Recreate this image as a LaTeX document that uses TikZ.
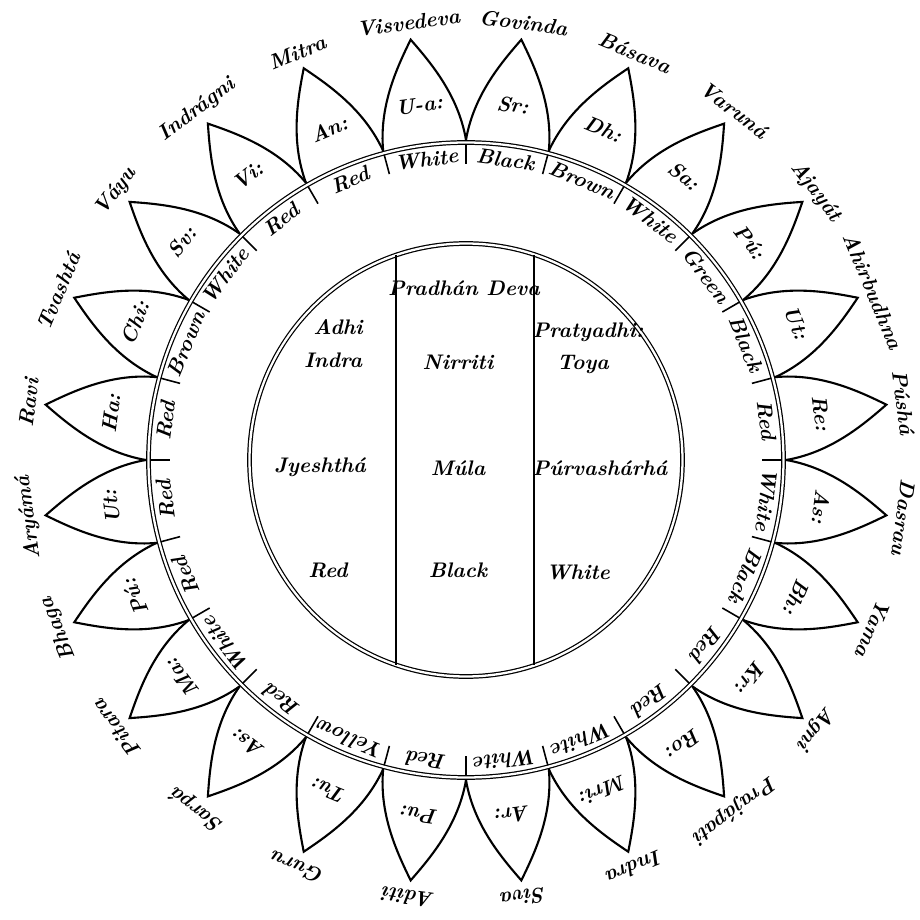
\documentclass[tikz,border=0pt]{standalone}
\usepackage{fontspec}
\usetikzlibrary{calc}

\begin{document}
\begin{tikzpicture}[
    x=0.02cm, y=0.02cm,
    ring/.style={draw, line width=0.7pt, double, double distance=1.3pt},
    petal/.style={draw, line width=1.2pt, line join=miter},
    tick/.style={line width=0.9pt},
    word/.style={font=\fontsize{12}{14}\selectfont\bfseries\itshape, inner sep=1pt},
]

\useasboundingbox (-466,-460) rectangle (454,460);

% ====== Rings ======
\draw[ring] (0,0) circle (317.5);
\draw[ring] (0,0) circle (216.5);

% ====== Columns of the centre ======
\draw[line width=1.2pt] (-70,205) -- (-70,-205);
\draw[line width=1.2pt] (68,205) -- (68,-205);

\node[word] (adhi)  at (-128,133) {Adhi};
\node[word] (indra) at (-133,100) {Indra};
\node[word] (pradhan) at (-2,172) {Pradhán Deva};
\node[word] (nirriti) at (-8,98) {Nirriti};
\node[word] (pratyadhi) at (122,128) {Pratyadhi:};
\node[word] (toya)  at (117,95) {Toya};

\node[word] (jyeshtha) at (-146,-7) {Jyeshthá};
\node[word] (mula)  at (-8,-8) {Múla};
\node[word] (purva) at (134,-8) {Púrvashárhá};

\node[word] (red)   at (-138,-110) {Red};
\node[word] (black) at (-8,-110) {Black};
\node[word] (white) at (112,-112) {White};

% ====== Ticks of the ring ======
\foreach \a in {0,15,...,345}
    \draw[tick] (\a:296) -- (\a:316);

% ====== Petals, colours and deities ======
\foreach \col/\abbr/\deity [count=\k from 0] in {
    White/U-a:/Visvedeva, Black/Sr:/Govinda, Brown/Dh:/Básava,
    White/Sa:/Varuná, Green/Pú:/Ajayát, Black/Ut:/Ahirbudhna,
    Red/Re:/Púshá, White/As:/Dasrau, Black/Bh:/Yama,
    Red/Kr:/Agni, Red/Ro:/Prajápati, White/Mri:/Indra,
    White/Ar:/Siva, Red/Pu:/Aditi, Yellow/Tu:/Guru,
    Red/As:/Sarpá, White/Ma:/Pitara, Red/Pú:/Bhaga,
    Red/Ut:/Aryámá, Red/Ha:/Ravi, Brown/Chi:/Tvashtá,
    White/Sv:/Váyu, Red/Vi:/Indrágni, Red/An:/Mitra} {
    \pgfmathsetmacro\ang{97.5-15*\k}
    \begin{scope}[rotate=\ang-90]
        \draw[petal] (-41.8,317.3) .. controls (-40,362) and (-18,397) .. (0,424)
            .. controls (18,397) and (40,362) .. (41.8,317.3);
    \end{scope}
    \node[word, rotate=\ang-90] (c\k) at (\ang:303) {\col};
    \node[word, rotate=\ang-90] (p\k) at (\ang:358) {\abbr};
    \node[word, rotate=\ang-90] (d\k) at (\ang:441) {\deity};
}

\end{tikzpicture}
\end{document}
